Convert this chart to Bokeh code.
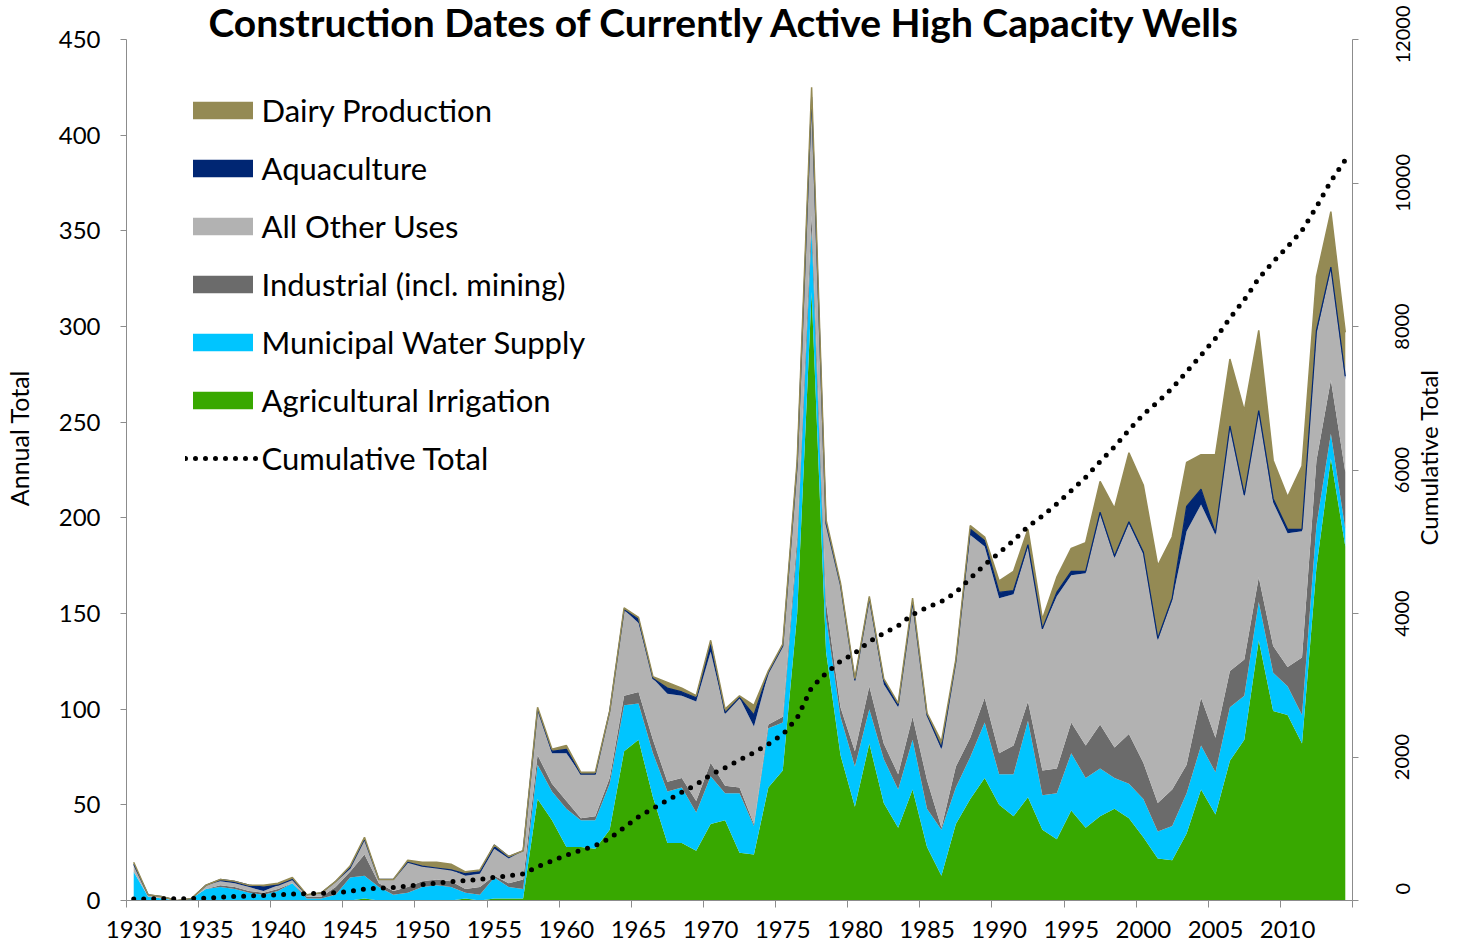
from math import pi
from bokeh.plotting import figure
from bokeh.models import (Range1d, LinearAxis, FixedTicker, Legend, LegendItem,
                          ColumnDataSource)
from bokeh.transform import stack
from bokeh.embed import file_html
from bokeh.resources import INLINE

years = list(range(1930, 2015))

agricultural = [0, 0, 0, 0, 0, 0, 0, 0, 0, 0,
                0, 0, 0, 0, 0, 0, 1, 0, 0, 0,
                0, 0, 0, 1, 0, 1, 1, 1, 53, 42,
                28, 28, 27, 37, 78, 84, 54, 30, 30, 26,
                40, 42, 25, 24, 59, 68, 150, 318, 130, 76,
                49, 82, 51, 38, 58, 28, 13, 40, 53, 64,
                50, 44, 54, 37, 32, 47, 38, 44, 48, 43,
                33, 22, 21, 35, 58, 45, 73, 84, 136, 99,
                97, 82, 174, 231, 185]
municipal = [15, 2, 1, 0, 1, 6, 7, 6, 4, 3,
             5, 9, 1, 1, 3, 12, 12, 7, 3, 4,
             7, 8, 7, 3, 3, 11, 6, 5, 18, 15,
             20, 14, 15, 24, 24, 19, 23, 27, 29, 20,
             25, 14, 31, 15, 31, 25, 35, 32, 18, 20,
             21, 18, 23, 20, 26, 20, 24, 19, 22, 29,
             16, 22, 40, 18, 24, 30, 26, 25, 16, 18,
             20, 14, 18, 21, 23, 22, 28, 23, 20, 20,
             15, 15, 22, 13, 9]
industrial = [0, 0, 0, 0, 0, 0, 1, 1, 1, 1,
              1, 0, 1, 1, 4, 3, 11, 2, 2, 3,
              3, 3, 3, 2, 4, 1, 2, 5, 5, 4,
              4, 1, 2, 3, 5, 6, 7, 5, 5, 6,
              7, 4, 3, 1, 2, 3, 5, 8, 8, 5,
              8, 12, 8, 8, 12, 15, 1, 11, 10, 13,
              11, 15, 10, 13, 13, 16, 17, 23, 16, 26,
              19, 15, 19, 15, 25, 18, 19, 19, 13, 14,
              10, 30, 34, 28, 30]
other_uses = [4, 1, 1, 0, 0, 2, 2, 2, 2, 1,
              2, 2, 1, 2, 3, 2, 8, 2, 6, 13,
              8, 6, 6, 7, 7, 14, 13, 15, 24, 16,
              25, 23, 22, 35, 45, 36, 32, 46, 43, 52,
              58, 38, 47, 51, 27, 37, 38, 62, 41, 64,
              37, 45, 31, 35, 60, 34, 41, 55, 106, 79,
              81, 79, 81, 74, 90, 77, 90, 110, 99, 110,
              109, 85, 99, 122, 101, 106, 127, 85, 86, 75,
              70, 66, 66, 58, 48]
aquaculture = [0, 0, 0, 0, 0, 0, 1, 1, 1, 2,
               0, 0, 0, 0, 0, 0, 0, 0, 0, 0,
               0, 0, 0, 1, 1, 2, 1, 0, 0, 1,
               2, 0, 0, 0, 0, 2, 0, 3, 2, 2,
               5, 0, 0, 6, 0, 0, 0, 0, 0, 0,
               0, 1, 2, 1, 0, 0, 1, 0, 3, 3,
               3, 2, 1, 0, 2, 2, 1, 1, 1, 1,
               1, 1, 1, 13, 8, 1, 1, 1, 1, 2,
               2, 1, 2, 1, 2]
dairy = [1, 0, 0, 0, 0, 0, 0, 0, 0, 1,
         1, 1, 0, 0, 0, 1, 1, 0, 0, 1,
         2, 3, 3, 1, 1, 0, 0, 0, 1, 1,
         2, 1, 1, 0, 1, 1, 1, 3, 2, 1,
         1, 2, 1, 5, 1, 1, 2, 5, 2, 1,
         1, 1, 1, 1, 2, 1, 3, 1, 2, 2,
         6, 10, 8, 5, 8, 12, 15, 16, 25, 36,
         35, 38, 32, 23, 18, 41, 35, 44, 42, 20,
         17, 33, 28, 29, 23]
cumulative_total = [20, 23, 25, 25, 26, 34, 45, 55, 63, 71,
                    80, 92, 95, 99, 109, 127, 160, 171, 182, 203,
                    223, 243, 262, 277, 293, 322, 345, 371, 472, 551,
                    632, 699, 766, 865, 1018, 1166, 1283, 1397, 1508, 1615,
                    1751, 1851, 1958, 2060, 2180, 2314, 2544, 2969, 3168, 3334,
                    3450, 3609, 3725, 3828, 3986, 4084, 4167, 4293, 4489, 4679,
                    4846, 5018, 5212, 5359, 5528, 5712, 5899, 6118, 6323, 6557,
                    6774, 6949, 7139, 7368, 7601, 7834, 8117, 8373, 8671, 8901,
                    9112, 9339, 9665, 10025, 10322]

x_tick_labels = list(range(1930, 2011, 5))
left_ticks = list(range(0, 451, 50))
right_ticks = list(range(0, 12001, 2000))

series_keys = ["ag", "mu", "ind", "oth", "aq", "da"]
series_names = ["Agricultural Irrigation", "Municipal Water Supply",
                "Industrial (incl. mining)", "All Other Uses",
                "Aquaculture", "Dairy Production"]
series_colors = ["#38A800", "#00C5FF", "#6B6B6B", "#B2B2B2", "#002673", "#948A54"]

FONT = "Lato"
AXIS_COLOR = "#8C8C8C"
FRAME_H = 861.0          # plot area height in px (used to place rotated labels)
RIGHT_MAX = 12000.0
LEFT_MAX = 450.0

def px_to_right(px):
    return px * RIGHT_MAX / FRAME_H

source = ColumnDataSource(dict(year=years, ag=agricultural, mu=municipal,
                               ind=industrial, oth=other_uses, aq=aquaculture,
                               da=dairy, cum=cumulative_total))

p = figure(width=1467, height=944, output_backend="svg", toolbar_location=None,
           x_range=Range1d(1929.5, 2014.5), y_range=Range1d(0, LEFT_MAX),
           min_border_left=119, min_border_right=115, min_border_top=39,
           min_border_bottom=44)
p.extra_y_ranges = {"cum": Range1d(0, RIGHT_MAX)}
p.outline_line_color = None
p.xgrid.grid_line_color = None
p.ygrid.grid_line_color = None
p.background_fill_color = "white"
p.border_fill_color = "white"

p.title.text = "Construction Dates of Currently Active High Capacity Wells" + "\u00a0" * 3
p.title.align = "center"
p.title.text_font = FONT
p.title.text_font_size = "39px"
p.title.text_font_style = "bold"
p.title.text_color = "black"
p.title.standoff = -11

areas = p.varea_stack(stackers=series_keys, x="year", color=series_colors, source=source)
p.line(x="year", y=stack(*series_keys[:5]), source=source, line_color="#002673", line_width=1.2)
p.line(x="year", y=stack(*series_keys), source=source, line_color="#948A54", line_width=1.5)

cum_line = p.line(x="year", y="cum", y_range_name="cum", source=source,
                  line_color="black", line_width=5, line_dash="0 10", line_cap="round")

# ---- bottom axis
xa = p.xaxis[0]
xa.ticker = FixedTicker(ticks=x_tick_labels, minor_ticks=[1929.5 + 5 * k for k in range(18)])
xa.major_tick_out = 0
xa.major_tick_in = 0
xa.minor_tick_out = 7
xa.minor_tick_in = 0
xa.minor_tick_line_color = AXIS_COLOR
xa.axis_line_color = AXIS_COLOR
xa.major_label_text_font = FONT
xa.major_label_text_font_size = "24px"
xa.major_label_text_color = "black"
xa.major_label_text_line_height = 0.8
xa.major_label_standoff = 13

# ---- left axis
ya = p.yaxis[0]
ya.ticker = FixedTicker(ticks=left_ticks)
ya.major_tick_out = 6
ya.major_tick_in = 0
ya.minor_tick_out = 0
ya.minor_tick_in = 0
ya.major_tick_line_color = AXIS_COLOR
ya.axis_line_color = AXIS_COLOR
ya.major_label_text_font = FONT
ya.major_label_text_font_size = "24px"
ya.major_label_text_color = "black"
ya.major_label_standoff = 20

# left axis title (a little above the middle, as in the original)
left_title_at = LEFT_MAX / 2 + 32 * LEFT_MAX / FRAME_H
ya_title = LinearAxis(ticker=FixedTicker(ticks=[left_title_at]),
                      major_label_overrides={left_title_at: "Annual Total"})
ya_title.axis_line_color = None
ya_title.major_tick_line_color = None
ya_title.minor_tick_line_color = None
ya_title.major_tick_out = 0
ya_title.major_tick_in = 0
ya_title.minor_tick_out = 0
ya_title.minor_tick_in = 0
ya_title.major_label_orientation = "vertical"
ya_title.major_label_text_font = FONT
ya_title.major_label_text_font_size = "25px"
ya_title.major_label_text_line_height = 0.8
ya_title.major_label_text_color = "black"
ya_title.major_label_standoff = 22
p.add_layout(ya_title, "left")

# ---- right axis: line, tick marks (as minor ticks) and upward-reading labels
DIGIT_PX = 11.6
label_pos = {}
for v in right_ticks:
    t = str(v)
    half = len(t) * DIGIT_PX / 2.0
    if v == 0:
        pos = px_to_right(6)
    elif v == RIGHT_MAX:
        pos = v - px_to_right(half - 5)
    else:
        pos = v - px_to_right(half)
    label_pos[pos] = t

ra = LinearAxis(y_range_name="cum",
                ticker=FixedTicker(ticks=list(label_pos.keys()), minor_ticks=right_ticks),
                major_label_overrides=label_pos)
ra.axis_line_color = AXIS_COLOR
ra.major_tick_line_color = None
ra.major_tick_out = 0
ra.major_tick_in = 0
ra.minor_tick_line_color = AXIS_COLOR
ra.minor_tick_out = 6
ra.minor_tick_in = 0
ra.major_label_orientation = pi / 2
ra.major_label_text_font = FONT
ra.major_label_text_font_size = "20px"
ra.major_label_text_line_height = 0.6
ra.major_label_text_color = "black"
ra.major_label_standoff = 44
p.add_layout(ra, "right")

# right axis title
right_title_start = px_to_right(900 - 545)
ra_title = LinearAxis(y_range_name="cum", ticker=FixedTicker(ticks=[right_title_start]),
                      major_label_overrides={right_title_start: "Cumulative Total"})
ra_title.axis_line_color = None
ra_title.major_tick_line_color = None
ra_title.minor_tick_line_color = None
ra_title.major_tick_out = 0
ra_title.major_tick_in = 0
ra_title.minor_tick_out = 0
ra_title.minor_tick_in = 0
ra_title.major_label_orientation = pi / 2
ra_title.major_label_text_font = FONT
ra_title.major_label_text_font_size = "24px"
ra_title.major_label_text_line_height = 0.6
ra_title.major_label_text_color = "black"
ra_title.major_label_standoff = 9
p.add_layout(ra_title, "right")

items = [LegendItem(label=series_names[i], renderers=[areas[i]]) for i in range(5, -1, -1)]
items.append(LegendItem(label="Cumulative Total", renderers=[cum_line]))
legend = Legend(items=items, location=(58.5, 422.6), margin=0, padding=0,
                glyph_width=75, glyph_height=22, label_standoff=2, spacing=20,
                label_text_font=FONT, label_text_font_size="31px",
                label_text_color="black", border_line_color=None,
                background_fill_alpha=0)
p.add_layout(legend)

open("out.html", "w").write(file_html(p, INLINE))
